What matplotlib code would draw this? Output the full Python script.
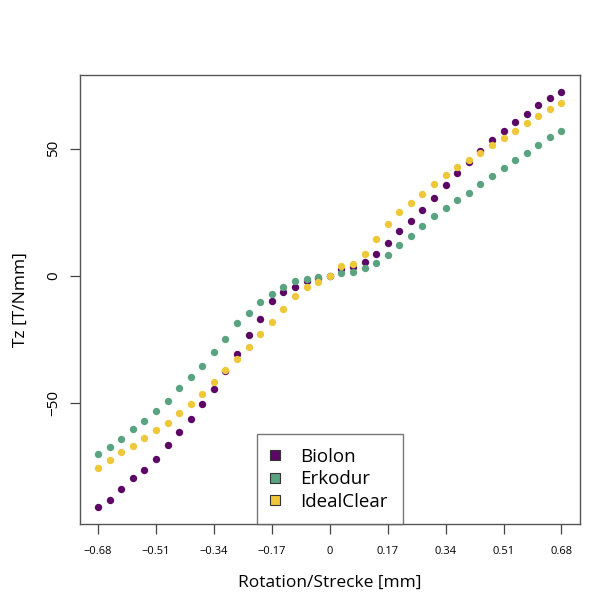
import numpy as np
import matplotlib
matplotlib.use("Agg")
import matplotlib.pyplot as plt
from matplotlib.lines import Line2D

plt.rcParams['font.family'] = ['Open Sans', 'DejaVu Sans']
plt.rcParams['axes.unicode_minus'] = True

# displacement steps (mm)
rotation = np.round(np.arange(-20, 21) * 0.034, 3)

biolon = [-90.8, -87.8, -83.6, -79.4, -76.0, -71.7, -66.2, -61.1, -56.3, -50.2,
          -44.3, -37.2, -30.5, -23.3, -16.8, -9.6, -6.4, -4.1, -1.8, -0.6,
          0.0, 2.6, 3.5, 5.7, 8.6, 13.1, 17.5, 21.7, 26.0, 30.5,
          35.6, 40.3, 44.6, 49.2, 53.4, 56.9, 60.3, 63.8, 67.0, 70.0, 72.4]
erkodur = [-69.9, -67.1, -63.9, -60.2, -56.9, -53.1, -48.9, -44.0, -39.8, -35.2,
           -30.0, -24.7, -18.4, -14.4, -10.0, -7.1, -4.1, -2.1, -1.1, -0.2,
           0.0, 1.2, 1.7, 3.0, 5.3, 8.4, 12.1, 15.9, 19.5, 23.4,
           26.9, 29.9, 32.8, 36.1, 39.4, 42.5, 45.6, 48.4, 51.4, 54.4, 57.0]
idealclear = [-75.4, -72.1, -69.2, -66.9, -63.5, -60.4, -57.5, -53.7, -50.1, -46.1,
              -41.6, -37.0, -32.6, -27.7, -22.8, -18.2, -13.0, -8.0, -4.3, -2.4,
              0.1, 3.8, 4.8, 8.6, 14.5, 20.4, 25.1, 28.8, 32.4, 36.0,
              39.6, 42.8, 45.4, 48.3, 51.4, 54.3, 57.0, 59.9, 62.9, 65.7, 68.0]

names = ['Biolon', 'Erkodur', 'IdealClear']
colors = ['#5c0666', '#5aa381', '#efc83a']
xticks = [-0.68, -0.51, -0.34, -0.17, 0, 0.17, 0.34, 0.51, 0.68]
xticklabels = ['\u22120.68', '\u22120.51', '\u22120.34', '\u22120.17', '0',
               '0.17', '0.34', '0.51', '0.68']
yticks = [-50, 0, 50]
yticklabels = ['\u221250', '0', '50']

fig = plt.figure(figsize=(6.06, 6.04), dpi=100)
ax = fig.add_axes([79.5 / 606, 1 - 524 / 604, 500.5 / 606, 449 / 604])

for vals, c in zip([biolon, erkodur, idealclear], colors):
    ax.plot(rotation, vals, 'o', color=c, markersize=5.3, markeredgewidth=0)

# R style axis limits (4% padding)
xr = rotation.max() - rotation.min()
ax.set_xlim(rotation.min() - 0.04 * xr, rotation.max() + 0.04 * xr)
allv = biolon + erkodur + idealclear
yr = max(allv) - min(allv)
ax.set_ylim(min(allv) - 0.04 * yr, max(allv) + 0.04 * yr)

ax.set_xticks(xticks)
ax.set_xticklabels(xticklabels, fontsize=8)
ax.set_yticks(yticks)
ax.set_yticklabels(yticklabels, fontsize=11, rotation=90, va='center')
ax.tick_params(axis='both', length=7, width=0.9, color='#444444', pad=6)
ax.tick_params(axis='x', pad=9)
for s in ax.spines.values():
    s.set_color('#555555')
    s.set_linewidth(1.0)

ax.set_xlabel('Rotation/Strecke [mm]', fontsize=12.5, labelpad=13)
ax.set_ylabel('Tz [T/Nmm]', fontsize=12.5, labelpad=13)

handles = [Line2D([], [], marker='s', linestyle='', markersize=7,
                  markerfacecolor=c, markeredgecolor='#333333', markeredgewidth=0.8)
           for c in colors]
leg = ax.legend(handles, names, loc='lower left',
                bbox_to_anchor=((257 - 79.5) / 500.5, 0, 146 / 500.5, 0.205),
                mode='expand', borderaxespad=0, fontsize=13.5, frameon=True,
                fancybox=False, edgecolor='#555555', borderpad=0.7,
                labelspacing=0.25, handlelength=0.5, handletextpad=1.1)
leg.get_frame().set_linewidth(1.0)

fig.savefig('out.png', dpi=100, facecolor='white')
